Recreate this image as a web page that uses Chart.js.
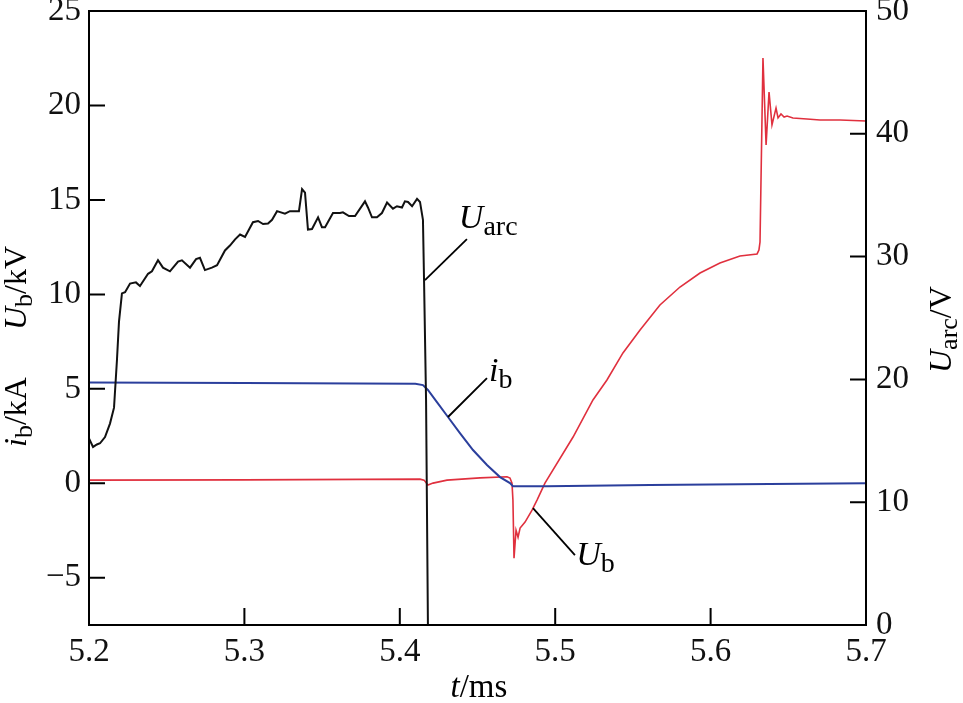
<!DOCTYPE html>
<html>
<head>
<meta charset="utf-8">
<script src="https://cdn.jsdelivr.net/npm/chart.js@4"></script>
<style>
  body { margin: 0; background: #fff; }
  #wrap { width: 963px; height: 703px; }
</style>
</head>
<body>
<div id="wrap"><canvas id="c" width="963" height="703"></canvas></div>
<script>
// axis ticks
const timeTicks = [5.2, 5.3, 5.4, 5.5, 5.6, 5.7];
const leftTicks = [-5, 0, 5, 10, 15, 20, 25];
const rightTicks = [0, 10, 20, 30, 40, 50];

// U_arc (V, right axis)
const arcT = [5.200, 5.2026, 5.2051, 5.2071, 5.2103, 5.2135, 5.2161, 5.2180, 5.2193, 5.2212,
  5.2232, 5.2264, 5.2302, 5.2328, 5.2380, 5.2405, 5.2444, 5.2476, 5.2521, 5.2573,
  5.2598, 5.2650, 5.2689, 5.2714, 5.2746, 5.2791, 5.2824, 5.2875, 5.2907, 5.2940,
  5.2972, 5.3004, 5.3055, 5.3088, 5.3120, 5.3152, 5.3178, 5.3210, 5.3261, 5.3293,
  5.3351, 5.3371, 5.3390, 5.3409, 5.3435, 5.3474, 5.3499, 5.3519, 5.3570, 5.3615,
  5.3634, 5.3673, 5.3712, 5.3776, 5.3795, 5.3821, 5.3853, 5.3885, 5.3918, 5.3956,
  5.3982, 5.4014, 5.4033, 5.4053, 5.4079, 5.4111, 5.4130, 5.4149, 5.4156, 5.4169, 5.4181];
const arcV = [15.2, 14.5, 14.7, 14.8, 15.3, 16.4, 17.7, 21.6, 24.7, 27.0,
  27.1, 27.8, 27.9, 27.6, 28.6, 28.8, 29.7, 29.1, 28.8, 29.6,
  29.7, 29.1, 29.8, 29.9, 28.9, 29.1, 29.3, 30.5, 30.9, 31.4,
  31.8, 31.6, 32.8, 32.9, 32.65, 32.7, 33.0, 33.7, 33.5, 33.7,
  33.7, 35.5, 35.2, 32.2, 32.25, 33.2, 32.4, 32.4, 33.55, 33.55,
  33.6, 33.3, 33.3, 34.5, 34.0, 33.2, 33.2, 33.55, 34.4, 33.9,
  34.1, 34.0, 34.5, 34.45, 34.1, 34.7, 34.45, 33.0, 28.1, 18.3, 0];

// i_b (kA, left axis)
const ibT = [5.2, 5.3, 5.41, 5.4149, 5.4181, 5.4239, 5.4310, 5.4387, 5.4471, 5.4561,
  5.4645, 5.4709, 5.4728, 5.4793, 5.4947, 5.561, 5.638, 5.7];
const ibA = [5.34, 5.31, 5.27, 5.2, 4.94, 4.30, 3.51, 2.66, 1.76, 0.97,
  0.33, 0.01, -0.15, -0.15, -0.15, -0.09, -0.04, 0.0];

// U_b (kV, left axis)
const ubT = [5.2, 5.3, 5.413, 5.4156, 5.4181, 5.4214, 5.4304, 5.4516, 5.4690, 5.4709,
  5.4722, 5.4728, 5.4735, 5.4748, 5.4761, 5.4774, 5.4806, 5.4851, 5.4883, 5.4934,
  5.5115, 5.5243, 5.5333, 5.5436, 5.5546, 5.5674, 5.5803, 5.5932, 5.6060, 5.6189,
  5.6299, 5.6311, 5.6318, 5.6337, 5.6357, 5.6376, 5.6395, 5.6421, 5.6434, 5.6453,
  5.6473, 5.6492, 5.6530, 5.6620, 5.6704, 5.6833, 5.7];
const ubV = [0.17, 0.18, 0.22, 0.17, -0.09, 0.01, 0.17, 0.29, 0.35, 0.28,
  0.01, -0.89, -3.96, -2.48, -2.85, -2.37, -2.05, -1.42, -0.89, 0.01,
  2.45, 4.41, 5.47, 6.9, 8.11, 9.44, 10.39, 11.13, 11.66, 12.03,
  12.14, 12.35, 12.77, 22.51, 17.91, 20.71, 18.97, 19.86, 19.34, 19.55,
  19.39, 19.44, 19.34, 19.28, 19.23, 19.23, 19.18];

// in-plot labels: [main, sub, textT, textV, lineFrom(t,v), lineTo(t,v)] in left-axis units
const notes = [
  ['U', 'arc', 5.4380, 13.51, [5.4162, 10.76], [5.4432, 12.93]],
  ['i', 'b', 5.4574, 5.41, [5.4310, 3.51], [5.4561, 5.57]],
  ['U', 'b', 5.5135, -4.33, [5.4857, -1.31], [5.5127, -3.80]]
];

const SERIF = '"Liberation Serif", "Times New Roman", serif';

function pts(xs, ys) { return xs.map((x, i) => ({ x, y: ys[i] })); }

// draws pieces of text: [text, italic, sub]
function rich(ctx, x, y, parts, size) {
  let cx = x;
  for (const [t, it, sub] of parts) {
    const s = sub ? Math.round(size * 0.82) : size;
    ctx.font = (it ? 'italic ' : '') + s + 'px ' + SERIF;
    ctx.fillText(t, cx, y + (sub ? size * 0.2 : 0));
    cx += ctx.measureText(t).width;
  }
}

function noPad(s) {
  s.paddingTop = 0; s.paddingBottom = 0; s.paddingLeft = 0; s.paddingRight = 0;
}

const decor = {
  id: 'decor',
  afterDatasetsDraw(chart) {
    const { ctx, chartArea: a, scales } = chart;
    const x = scales.x, y = scales.y, y2 = scales.y2;
    ctx.save();
    ctx.strokeStyle = '#000';
    ctx.lineWidth = 2;
    ctx.strokeRect(a.left, a.top, a.right - a.left, a.bottom - a.top);
    ctx.beginPath();
    leftTicks.forEach(v => {
      if (v >= 25) return;
      const py = y.getPixelForValue(v);
      ctx.moveTo(a.left, py); ctx.lineTo(a.left + 16, py);
    });
    rightTicks.forEach(v => {
      if (v <= 0 || v >= 50) return;
      const py = y2.getPixelForValue(v);
      ctx.moveTo(a.right, py); ctx.lineTo(a.right - 16, py);
    });
    timeTicks.forEach(v => {
      if (v <= 5.2 || v >= 5.7) return;
      const px = x.getPixelForValue(v);
      ctx.moveTo(px, a.bottom); ctx.lineTo(px, a.bottom - 17);
    });
    ctx.stroke();

    // leader lines + labels
    ctx.lineWidth = 1.8;
    ctx.fillStyle = '#000';
    ctx.textBaseline = 'alphabetic';
    ctx.textAlign = 'left';
    notes.forEach(([m, s, tt, tv, p0, p1]) => {
      ctx.beginPath();
      ctx.moveTo(x.getPixelForValue(p0[0]), y.getPixelForValue(p0[1]));
      ctx.lineTo(x.getPixelForValue(p1[0]), y.getPixelForValue(p1[1]));
      ctx.stroke();
      rich(ctx, x.getPixelForValue(tt), y.getPixelForValue(tv), [[m, true, false], [s, false, true]], 34);
    });

    // x title
    rich(ctx, (a.left + a.right) / 2 - 27, a.bottom + 72, [['t', true, false], ['/ms', false, false]], 33);

    // left title
    ctx.save();
    ctx.translate(26, 447);
    ctx.rotate(-Math.PI / 2);
    rich(ctx, 0, 0, [['i', true, false], ['b', false, true], ['/kA', false, false]], 32);
    rich(ctx, 117, 0, [['U', true, false], ['b', false, true], ['/kV', false, false]], 32);
    ctx.restore();

    // right title
    ctx.save();
    ctx.translate(951, 373);
    ctx.rotate(-Math.PI / 2);
    rich(ctx, 0, 0, [['U', true, false], ['arc', false, true], ['/V', false, false]], 32);
    ctx.restore();
    ctx.restore();
  }
};

const tickFont = { family: SERIF, size: 33 };

new Chart(document.getElementById('c'), {
  type: 'line',
  data: {
    datasets: [
      { label: 'Uarc', data: pts(arcT, arcV), yAxisID: 'y2', borderColor: '#111', borderWidth: 2 },
      { label: 'ib', data: pts(ibT, ibA), yAxisID: 'y', borderColor: '#2b3f9c', borderWidth: 2 },
      { label: 'Ub', data: pts(ubT, ubV), yAxisID: 'y', borderColor: '#e0303e', borderWidth: 1.6 }
    ]
  },
  options: {
    responsive: false,
    animation: false,
    layout: { padding: { top: 11, left: 0, right: 0, bottom: 0 } },
    elements: { point: { radius: 0 }, line: { tension: 0 } },
    plugins: { legend: { display: false }, tooltip: { enabled: false } },
    scales: {
      x: {
        type: 'linear', min: 5.2, max: 5.7,
        afterBuildTicks: s => { s.ticks = timeTicks.map(v => ({ value: v })); },
        afterFit: s => { s.height = 78; noPad(s); },
        grid: { display: false, drawTicks: false },
        border: { display: false },
        ticks: { font: tickFont, color: '#111', padding: 8, maxRotation: 0,
          callback: v => v.toFixed(1) }
      },
      y: {
        position: 'left', min: -7.5, max: 25,
        afterBuildTicks: s => { s.ticks = leftTicks.map(v => ({ value: v })); },
        afterFit: s => { s.width = 89; noPad(s); },
        grid: { display: false, drawTicks: false },
        border: { display: false },
        ticks: { font: tickFont, color: '#111', padding: 8,
          callback: v => v < 0 ? '\u2212' + Math.abs(v) : String(v) }
      },
      y2: {
        position: 'right', min: 0, max: 50,
        afterBuildTicks: s => { s.ticks = rightTicks.map(v => ({ value: v })); },
        afterFit: s => { s.width = 97; noPad(s); },
        grid: { display: false, drawTicks: false },
        border: { display: false },
        ticks: { font: tickFont, color: '#111', padding: 10 }
      }
    }
  },
  plugins: [decor]
});
</script>
</body>
</html>
